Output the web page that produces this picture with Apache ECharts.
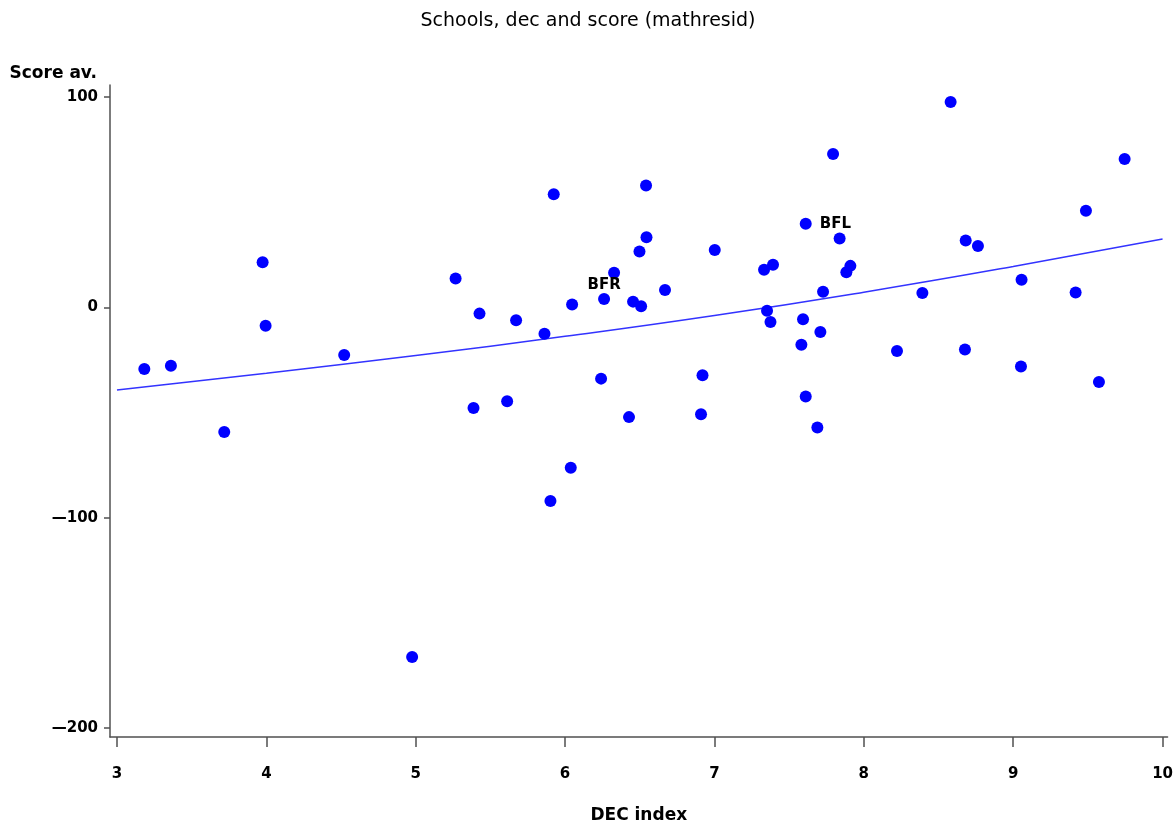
<!DOCTYPE html>
<html>
<head>
<meta charset="utf-8">
<script src="https://cdn.jsdelivr.net/npm/echarts@6/dist/echarts.min.js"></script>
<style>
  html, body { margin: 0; padding: 0; background: #fff; }
  #chart { width: 1176px; height: 829px; }
</style>
</head>
<body>
<div id="chart"></div>
<script>
// schools: DEC index vs average score
var decIndex = [
    3.183, 3.361, 3.975, 3.995, 4.521, 3.718, 5.924, 6.542, 6.545, 6.498,
    6.328, 5.267, 6.669, 6.261, 6.455, 6.509, 6.047, 5.427, 5.672, 5.862,
    6.241, 5.612, 5.387, 6.428, 7.794, 7.611, 7.838, 7.002, 7.392, 7.332,
    7.910, 7.883, 7.727, 7.352, 7.375, 7.593, 7.709, 7.582, 6.920, 6.910,
    7.611, 7.689, 8.581, 9.746, 9.487, 8.682, 8.764, 9.056, 8.392, 9.418,
    8.222, 8.677, 9.052, 9.574, 6.038, 5.902, 4.976
];
var scoreAv = [
    -29.3, -27.8, 21.4, -8.8, -22.7, -59.3, 53.8, 57.9, 33.3, 26.5,
    16.4, 13.7, 8.2, 3.9, 2.7, 0.5, 1.3, -3.0, -6.2, -12.6,
    -33.9, -44.6, -47.9, -52.2, 72.9, 39.7, 32.7, 27.3, 20.2, 17.8,
    19.7, 16.7, 7.4, -1.6, -7.0, -5.7, -11.7, -17.8, -32.3, -50.8,
    -42.4, -57.1, 97.6, 70.5, 45.9, 31.8, 29.2, 13.1, 6.8, 7.0,
    -20.8, -20.0, -28.1, -35.5, -76.3, -92.1, -166.2
];
// labelled schools: index into the arrays above
var labelIdx = [13, 25];
var labelText = ['BFR', 'BFL'];
var labelPos = ['top', 'right'];

// fitted curve
var fitX = [3, 4, 5, 6, 7, 8, 9, 10];
var fitY = [-39.3, -31.3, -22.9, -13.8, -3.9, 7.2, 19.4, 32.5];

var xTicks = [3, 4, 5, 6, 7, 8, 9, 10];
var yTicks = [100, 0, -100, -200];

var myChart = echarts.init(document.getElementById('chart'));

var points = [];
for (var i = 0; i < decIndex.length; i++) {
    var p = { value: [decIndex[i], scoreAv[i]] };
    var k = labelIdx.indexOf(i);
    if (k >= 0) {
        p.label = {
            show: true,
            formatter: labelText[k],
            position: labelPos[k],
            distance: labelPos[k] == 'top' ? 0 : 8,
            color: '#000',
            fontFamily: 'DejaVu Sans',
            fontWeight: 'bold',
            fontSize: 15
        };
    }
    points.push(p);
}
var fitLine = [];
for (var j = 0; j < fitX.length; j++) {
    fitLine.push([fitX[j], fitY[j]]);
}

var axisCol = '#505050';
var tickFont = { color: '#000', fontFamily: 'DejaVu Sans', fontWeight: 'bold', fontSize: 15 };
var nameFont = { color: '#000', fontFamily: 'DejaVu Sans', fontWeight: 'bold', fontSize: 17 };

var option = {
    animation: false,
    backgroundColor: '#fff',
    title: {
        text: 'Schools, dec and score (mathresid)',
        left: 'center',
        top: 7,
        textStyle: { color: '#000', fontFamily: 'DejaVu Sans', fontWeight: 'normal', fontSize: 19 }
    },
    grid: { left: 110, top: 85, width: 1058, height: 655 },
    xAxis: {
        type: 'value',
        min: 2.9532,
        max: 10.0335,
        name: 'DEC index',
        nameLocation: 'middle',
        nameGap: 70,
        nameTextStyle: nameFont,
        axisLine: { show: true, onZero: false, lineStyle: { color: axisCol, width: 1.5 } },
        axisTick: { show: true, length: 10, customValues: xTicks, lineStyle: { color: axisCol, width: 1.5 } },
        axisLabel: Object.assign({ margin: 30, customValues: xTicks }, tickFont),
        splitLine: { show: false }
    },
    yAxis: {
        type: 'value',
        min: -204.26,
        max: 105.68,
        name: 'Score av.',
        nameLocation: 'end',
        nameGap: 3,
        nameTextStyle: Object.assign({ align: 'right', padding: [0, 13, 0, 0] }, nameFont),
        axisLine: { show: true, onZero: false, lineStyle: { color: axisCol, width: 1.5 } },
        axisTick: { show: true, length: 6, customValues: yTicks, lineStyle: { color: axisCol, width: 1.5 } },
        axisLabel: Object.assign({
            margin: 12,
            customValues: yTicks,
            formatter: function (v) { return v < 0 ? '\u2014' + (-v) : String(v); }
        }, tickFont),
        splitLine: { show: false }
    },
    series: [
        {
            type: 'line',
            data: fitLine,
            smooth: true,
            symbol: 'none',
            lineStyle: { color: '#3333ff', width: 1.5 },
            z: 1
        },
        {
            type: 'scatter',
            data: points,
            symbol: 'circle',
            symbolSize: 12,
            itemStyle: { color: '#0000ff', opacity: 1 },
            z: 2
        }
    ]
};

myChart.setOption(option);
</script>
</body>
</html>
